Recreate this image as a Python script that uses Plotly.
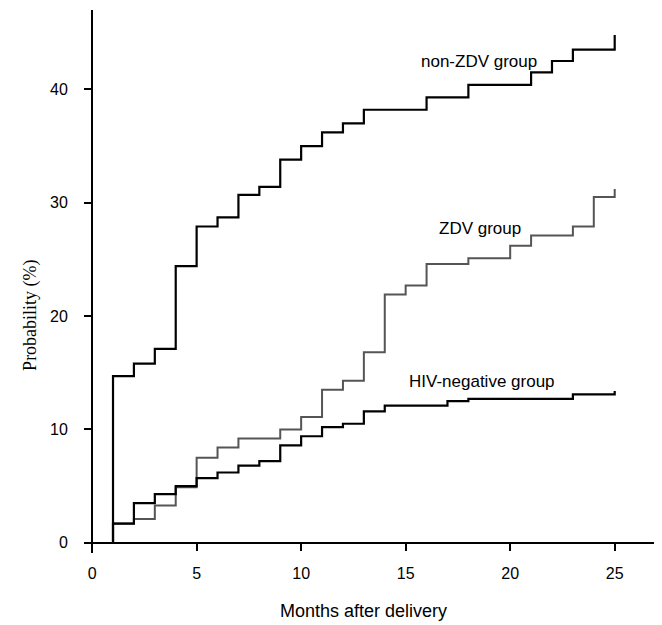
import plotly.graph_objects as go

# Data (months after delivery vs probability %)
nonzdv_x = [1, 1, 2, 3, 4, 5, 6, 7, 8, 9, 10, 11, 12, 13, 16, 18, 21, 22, 23, 25]
nonzdv_y = [0, 14.7, 15.8, 17.1, 24.4, 27.9, 28.7, 30.7, 31.4, 33.8, 35.0, 36.2, 37.0, 38.2, 39.3, 40.4, 41.5, 42.5, 43.5, 44.8]

zdv_x = [1, 1, 2, 3, 4, 5, 6, 7, 9, 10, 11, 12, 13, 14, 15, 16, 18, 20, 21, 23, 24, 25]
zdv_y = [0, 1.7, 2.1, 3.3, 4.9, 7.5, 8.4, 9.2, 10.0, 11.1, 13.5, 14.3, 16.8, 21.9, 22.7, 24.6, 25.1, 26.2, 27.1, 27.9, 30.5, 31.2]

hivneg_x = [1, 1, 2, 3, 4, 5, 6, 7, 8, 9, 10, 11, 12, 13, 14, 17, 18, 23, 25]
hivneg_y = [0, 1.7, 3.5, 4.3, 5.0, 5.7, 6.2, 6.8, 7.2, 8.6, 9.4, 10.2, 10.5, 11.6, 12.1, 12.5, 12.7, 13.1, 13.4]

x_ticks = [0, 5, 10, 15, 20, 25]
y_ticks = [0, 10, 20, 30, 40]

labels = ["non-ZDV group", "ZDV group", "HIV-negative group"]
label_x = [18.5, 18.55, 18.65]
label_y = [42.5, 27.7, 14.2]

x_range = [-0.34, 26.88]
y_range = [-0.9, 47.0]

fig = go.Figure()
fig.add_trace(go.Scatter(x=zdv_x, y=zdv_y, mode="lines", line=dict(shape="hv", color="#555555", width=2),
                         showlegend=False, hoverinfo="skip"))
fig.add_trace(go.Scatter(x=hivneg_x, y=hivneg_y, mode="lines", line=dict(shape="hv", color="black", width=2.2),
                         showlegend=False, hoverinfo="skip"))
fig.add_trace(go.Scatter(x=nonzdv_x, y=nonzdv_y, mode="lines", line=dict(shape="hv", color="black", width=2.2),
                         showlegend=False, hoverinfo="skip"))

for t, lx, ly in zip(labels, label_x, label_y):
    fig.add_annotation(x=lx, y=ly, text=t, showarrow=False, xanchor="center", yanchor="middle",
                       font=dict(family="Liberation Sans, Arial, sans-serif", size=17, color="black"))

# axis titles
fig.add_annotation(xref="paper", yref="paper", x=0.489, y=-0.107, text="Months after delivery", showarrow=False,
                   xanchor="center", yanchor="middle",
                   font=dict(family="Liberation Sans, Arial, sans-serif", size=18, color="black"))
fig.add_annotation(xref="paper", yref="y", x=-0.095, y=20.1, text="Probability (%)", showarrow=False,
                   textangle=-90, xanchor="center", yanchor="middle",
                   font=dict(family="Liberation Serif, Times New Roman, serif", size=18, color="black"))

xpos = (0 - y_range[0]) / (y_range[1] - y_range[0])
ypos = (0 - x_range[0]) / (x_range[1] - x_range[0])

# page body adds an 8 px offset, so the figure is sized/margined to compensate
fig.update_layout(
    width=654, height=617,
    margin=dict(l=77, r=8, t=2, b=72),
    paper_bgcolor="white", plot_bgcolor="white",
    font=dict(family="Liberation Sans, Arial, sans-serif", color="black"),
    xaxis=dict(range=x_range, tickvals=x_ticks, showgrid=False, zeroline=False,
               showline=True, linecolor="black", linewidth=2, automargin=False,
               ticks="outside", ticklen=7, tickwidth=2, tickcolor="black",
               anchor="free", position=xpos, ticklabelstandoff=9,
               tickfont=dict(size=16, color="black")),
    yaxis=dict(range=y_range, tickvals=y_ticks, showgrid=False, zeroline=False,
               showline=True, linecolor="black", linewidth=2, automargin=False,
               ticks="outside", ticklen=7, tickwidth=2, tickcolor="black",
               anchor="free", position=ypos, ticklabelstandoff=13,
               tickfont=dict(size=16, color="black")),
)

fig.write_html("out.html")
